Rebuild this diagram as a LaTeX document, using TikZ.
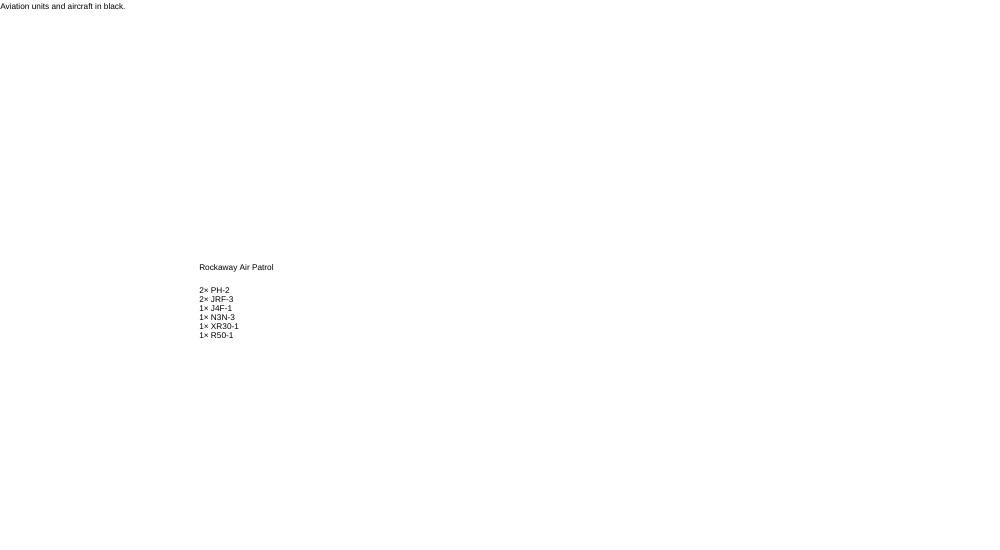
\documentclass[tikz,border=0pt]{standalone}
\usepackage{fontspec}
\setmainfont{Liberation Sans}
\begin{document}
\begin{tikzpicture}[x=0.75pt,y=-0.75pt,
  lbl/.style={anchor=west,inner sep=0pt,font=\fontsize{6.2}{6.75}\selectfont,align=left}]
\useasboundingbox (0,0) rectangle (1000,550);
\node[lbl] (cap) at (0,7) {Aviation units and aircraft in black.};
\node[lbl] (unit) at (199,268.5) {Rockaway Air Patrol};
\node[lbl,anchor=north west] (ac) at (199,287) {2\texttimes{} PH-2\\2\texttimes{} JRF-3\\1\texttimes{} J4F-1\\1\texttimes{} N3N-3\\1\texttimes{} XR30-1\\1\texttimes{} R50-1};
\end{tikzpicture}
\end{document}
